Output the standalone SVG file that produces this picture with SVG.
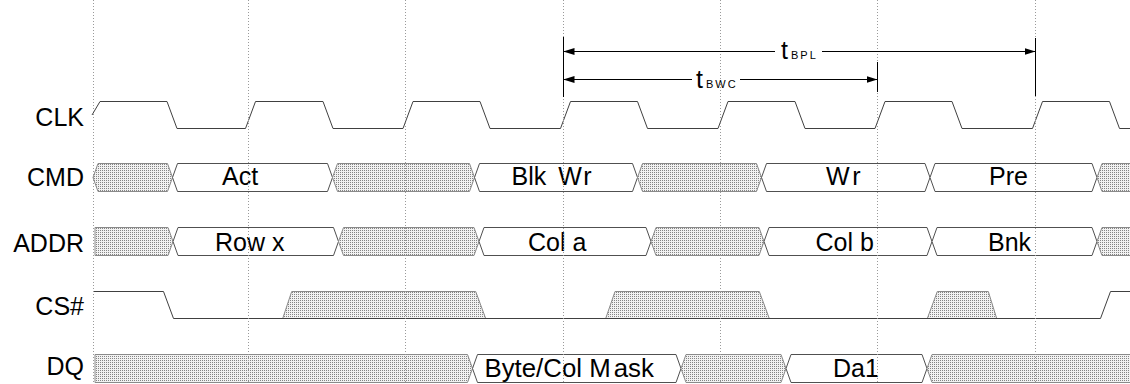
<svg xmlns="http://www.w3.org/2000/svg" width="1130" height="384" viewBox="0 0 1130 384">
<defs>
<pattern id="dots" width="2" height="2" patternUnits="userSpaceOnUse">
<rect width="2" height="2" fill="#f2f2f2"/>
<rect x="0" y="0" width="1" height="1" fill="#858585"/>
</pattern>
<marker id="ah" viewBox="0 0 11 7" refX="11" refY="3.5" markerWidth="11" markerHeight="7" markerUnits="userSpaceOnUse" orient="auto-start-reverse">
<path d="M0,0 L11,3.5 L0,7 Z" fill="#000"/>
</marker>
</defs>
<style>
.lbl{font-family:"Liberation Sans",Arial,sans-serif;font-size:25px;fill:#000;text-anchor:end}
.txt{font-family:"Liberation Sans",Arial,sans-serif;font-size:25px;fill:#000}
.hat{fill:url(#dots);stroke:#8a8a8a;stroke-width:1}
.box{fill:#fff;stroke:#505050;stroke-width:1}
.wave{fill:none;stroke:#404040;stroke-width:1}
.grid{stroke:#9a9a9a;stroke-width:1;stroke-dasharray:1 2}
.dim{stroke:#000;stroke-width:1;fill:none}
.t{font-family:"Liberation Sans",Arial,sans-serif;font-size:25px;fill:#000}
.sub{font-size:11px;letter-spacing:2px}
</style>
<rect width="1130" height="384" fill="#fff"/>

<g id="labels">
<text class="lbl" x="84" y="126">CLK</text>
<text class="lbl" x="84" y="185.5">CMD</text>
<text class="lbl" x="84" y="251.5">ADDR</text>
<text class="lbl" x="84" y="315">CS#</text>
<text class="lbl" x="84" y="375">DQ</text>
</g>

<g id="clk">
<path class="wave" d="M92,115 L100,101.5 L167,101.5 L177,128.5 L245.5,128.5 L255.5,101.5 L323,101.5 L333,128.5 L403,128.5 L413,101.5 L480,101.5 L490,128.5 L560.5,128.5 L570.5,101.5 L637.5,101.5 L647.5,128.5 L718,128.5 L728,101.5 L795,101.5 L805,128.5 L875,128.5 L885,101.5 L952,101.5 L962,128.5 L1032.5,128.5 L1042.5,101.5 L1109.5,101.5 L1119.5,128.5 L1131,128.5"/>
</g>

<g id="cmd">
<polygon class="hat" points="93,177.5 98,163.5 167.5,163.5 172.5,177.5 167.5,191.5 98,191.5"/>
<polygon class="box" points="172.5,177.5 177.5,163.5 327.5,163.5 332.5,177.5 327.5,191.5 177.5,191.5"/>
<polygon class="hat" points="332.5,177.5 337.5,163.5 469.5,163.5 474.5,177.5 469.5,191.5 337.5,191.5"/>
<polygon class="box" points="474.5,177.5 479.5,163.5 632.5,163.5 637.5,177.5 632.5,191.5 479.5,191.5"/>
<polygon class="hat" points="637.5,177.5 642.5,163.5 756.5,163.5 761.5,177.5 756.5,191.5 642.5,191.5"/>
<polygon class="box" points="761.5,177.5 766.5,163.5 925,163.5 930,177.5 925,191.5 766.5,191.5"/>
<polygon class="box" points="930,177.5 935,163.5 1092,163.5 1097,177.5 1092,191.5 935,191.5"/>
<polygon class="hat" points="1097,177.5 1102,163.5 1136,163.5 1136,191.5 1102,191.5"/>
<text class="txt" x="222" y="185">Act</text>
<text class="txt" x="511.5" y="185">Blk <tspan dx="5">W</tspan><tspan dx="2">r</tspan></text>
<text class="txt" x="826" y="185">W<tspan dx="3">r</tspan></text>
<text class="txt" x="989" y="185">Pre</text>
</g>

<g id="addr">
<polygon class="hat" points="95,227.5 168,227.5 173,241.5 168,255.5 95,255.5"/>
<polygon class="box" points="173,241.5 178,227.5 333.5,227.5 338.5,241.5 333.5,255.5 178,255.5"/>
<polygon class="hat" points="338.5,241.5 343.5,227.5 474,227.5 479,241.5 474,255.5 343.5,255.5"/>
<polygon class="box" points="479,241.5 484,227.5 646,227.5 651,241.5 646,255.5 484,255.5"/>
<polygon class="hat" points="651,241.5 656,227.5 759,227.5 764,241.5 759,255.5 656,255.5"/>
<polygon class="box" points="764,241.5 769,227.5 927,227.5 932,241.5 927,255.5 769,255.5"/>
<polygon class="box" points="932,241.5 937,227.5 1092,227.5 1097,241.5 1092,255.5 937,255.5"/>
<polygon class="hat" points="1097,241.5 1102,227.5 1136,227.5 1136,255.5 1102,255.5"/>
<text class="txt" x="215" y="250.5">Row x</text>
<text class="txt" x="528" y="250.5">Col a</text>
<text class="txt" x="815.5" y="250.5">Col b</text>
<text class="txt" x="988" y="250.5">Bnk</text>
</g>

<g id="cs">
<polygon class="hat" points="282.7,318.5 291.7,291.5 475.7,291.5 485.7,318.5"/>
<polygon class="hat" points="605.7,318.5 615,291.5 759.3,291.5 769.3,318.5"/>
<polygon class="hat" points="927.3,318.5 937.3,291.5 988.3,291.5 996.7,318.5"/>
<path class="wave" d="M93,291.5 L163.5,291.5 L173.5,318.5 L1100.5,318.5 L1110.5,291.5 L1131,291.5"/>
</g>

<g id="dq">
<polygon class="hat" points="95,354.5 467.5,354.5 472.5,368.5 467.5,382.5 95,382.5"/>
<polygon class="box" points="472.5,368.5 477.5,354.5 676,354.5 681,368.5 676,382.5 477.5,382.5"/>
<polygon class="hat" points="681,368.5 686,354.5 781,354.5 786,368.5 781,382.5 686,382.5"/>
<polygon class="box" points="786,368.5 791,354.5 922,354.5 927,368.5 922,382.5 791,382.5"/>
<polygon class="hat" points="927,368.5 932,354.5 1136,354.5 1136,382.5 932,382.5"/>
<text class="txt" x="484.5" y="376.5" style="font-size:25.8px">Byte/Col M<tspan dx="3">ask</tspan></text>
<text class="txt" x="833" y="376.5">Da1</text>
</g>

<g id="grid">
<line class="grid" x1="93.5" y1="0" x2="93.5" y2="384"/>
<line class="grid" x1="248.5" y1="0" x2="248.5" y2="384"/>
<line class="grid" x1="405.5" y1="0" x2="405.5" y2="384"/>
<line class="grid" x1="563.5" y1="0" x2="563.5" y2="384"/>
<line class="grid" x1="720.5" y1="0" x2="720.5" y2="384"/>
<line class="grid" x1="877.5" y1="0" x2="877.5" y2="384"/>
<line class="grid" x1="1035.5" y1="0" x2="1035.5" y2="384"/>
</g>

<g id="connectors">
<line class="dim" x1="563.5" y1="37" x2="563.5" y2="97"/>
<line class="dim" x1="877.5" y1="62" x2="877.5" y2="92"/>
<line class="dim" x1="1035.5" y1="38" x2="1035.5" y2="96"/>
<line class="dim" x1="563.5" y1="51.5" x2="775" y2="51.5" marker-start="url(#ah)"/>
<line class="dim" x1="822" y1="51.5" x2="1035.5" y2="51.5" marker-end="url(#ah)"/>
<line class="dim" x1="563.5" y1="79.5" x2="692" y2="79.5" marker-start="url(#ah)"/>
<line class="dim" x1="740" y1="79.5" x2="877.5" y2="79.5" marker-end="url(#ah)"/>
<text class="t" x="781" y="59">t<tspan class="sub" dx="3">BPL</tspan></text>
<text class="t" x="696" y="87.7">t<tspan class="sub" dx="3">BWC</tspan></text>
</g>
</svg>
